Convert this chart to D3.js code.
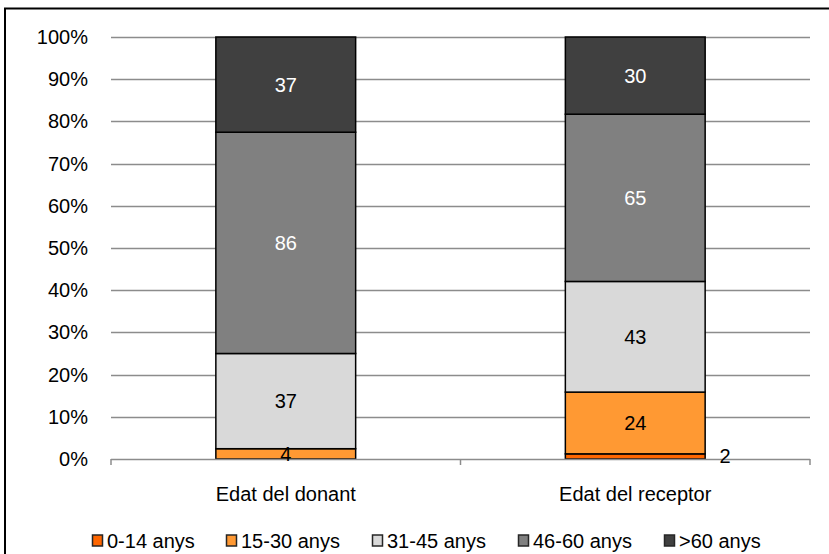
<!DOCTYPE html>
<html>
<head>
<meta charset="utf-8">
<script src="https://cdn.jsdelivr.net/npm/d3@7"></script>
<style>
  html, body { margin: 0; padding: 0; background: #fff; }
  svg { display: block; font-family: "Liberation Sans", Arial, sans-serif; }
</style>
</head>
<body>
<svg id="chart" width="829" height="554"></svg>
<script>
// Age groups and their counts for donors and recipients
const categories = ["Edat del donant", "Edat del receptor"];
const groups = ["0-14 anys", "15-30 anys", "31-45 anys", "46-60 anys", ">60 anys"];
const colors = ["#ff6600", "#ff9933", "#d9d9d9", "#808080", "#404040"];
const labelColors = ["#000", "#000", "#000", "#fff", "#fff"];
const donant = [0, 4, 37, 86, 37];
const receptor = [2, 24, 43, 65, 30];
const yTicks = [0, 0.1, 0.2, 0.3, 0.4, 0.5, 0.6, 0.7, 0.8, 0.9, 1];

const seriesValues = [donant, receptor];

const svg = d3.select("#chart");
const W = 829, H = 554;
const plot = { left: 111, right: 810, top: 37, bottom: 459 };
const FS = 20;

// Outer frame (runs past the right and bottom edges)
svg.append("rect")
  .attr("x", 5).attr("y", 8.5)
  .attr("width", W + 10).attr("height", H + 10)
  .attr("fill", "#fff").attr("stroke", "#000").attr("stroke-width", 2);

const x = d3.scaleBand().domain(categories).range([plot.left, plot.right]).paddingInner(0.6).paddingOuter(0.3);
const xOuter = d3.scaleBand().domain(categories).range([plot.left, plot.right]);
const y = d3.scaleLinear().domain([0, 1]).range([plot.bottom, plot.top]);

// Horizontal gridlines
svg.append("g").selectAll("line").data(yTicks.slice(1)).join("line")
  .attr("x1", plot.left).attr("x2", plot.right)
  .attr("y1", d => Math.round(y(d)) + 0.5).attr("y2", d => Math.round(y(d)) + 0.5)
  .attr("stroke", "#8c8c8c").attr("stroke-width", 1.5);

// Y tick labels
svg.append("g").selectAll("text").data(yTicks).join("text")
  .attr("x", 88).attr("y", d => y(d))
  .attr("dy", "0.35em").attr("text-anchor", "end")
  .attr("font-size", FS).attr("fill", "#000")
  .text(d => d3.format(".0%")(d));

// Stack the counts into proportions
const rows = categories.map((c, i) => {
  const total = d3.sum(seriesValues[i]);
  const r = { cat: c, total };
  groups.forEach((g, j) => r[g] = seriesValues[i][j] / total);
  return r;
});
const stacked = d3.stack().keys(groups)(rows);

const barG = svg.append("g");
stacked.forEach((layer, j) => {
  barG.selectAll(null).data(layer.filter(d => d[1] - d[0] > 0)).join("rect")
    .attr("x", d => x(d.data.cat))
    .attr("width", x.bandwidth())
    .attr("y", d => y(d[1]))
    .attr("height", d => y(d[0]) - y(d[1]))
    .attr("fill", colors[j])
    .attr("stroke", "#000").attr("stroke-width", 1.5);
});

// X axis line with tick marks at category boundaries
svg.append("line")
  .attr("x1", plot.left).attr("x2", plot.right)
  .attr("y1", plot.bottom + 0.5).attr("y2", plot.bottom + 0.5)
  .attr("stroke", "#8c8c8c").attr("stroke-width", 1.5);
const boundaries = [plot.left, xOuter(categories[1]), plot.right];
svg.append("g").selectAll("line").data(boundaries).join("line")
  .attr("x1", d => d).attr("x2", d => d)
  .attr("y1", plot.bottom).attr("y2", plot.bottom + 6)
  .attr("stroke", "#8c8c8c").attr("stroke-width", 1.5);

// Category labels
svg.append("g").selectAll("text").data(categories).join("text")
  .attr("x", d => x(d) + x.bandwidth() / 2).attr("y", 494)
  .attr("dy", "0.35em")
  .attr("text-anchor", "middle").attr("font-size", FS).attr("fill", "#000")
  .text(d => d);

// Value labels (very thin segments get their label beside the bar)
const labelG = svg.append("g");
stacked.forEach((layer, j) => {
  layer.forEach((d, i) => {
    const v = seriesValues[i][j];
    if (!v) return;
    const h = y(d[0]) - y(d[1]);
    const cx = x(d.data.cat) + x.bandwidth() / 2;
    const cy = (y(d[0]) + y(d[1])) / 2;
    const outside = h < 8;
    labelG.append("text")
      .attr("x", outside ? x(d.data.cat) + x.bandwidth() + 20 : cx)
      .attr("y", outside ? cy - 0.5 : cy)
      .attr("dy", "0.35em")
      .attr("text-anchor", "middle")
      .attr("font-size", FS)
      .attr("fill", outside ? "#000" : labelColors[j])
      .text(v);
  });
});

// Legend
const legendX = [92, 226, 372, 518, 664];
const lg = svg.append("g").selectAll("g").data(groups).join("g")
  .attr("transform", (d, i) => `translate(${legendX[i]},540.5)`);
lg.append("rect")
  .attr("x", 0.5).attr("y", -5.5).attr("width", 10).attr("height", 11)
  .attr("fill", (d, i) => colors[i]).attr("stroke", "#262626").attr("stroke-width", 1.5);
lg.append("text")
  .attr("x", 15).attr("y", 0).attr("dy", "0.35em")
  .attr("font-size", FS).attr("fill", "#000")
  .text(d => d);
</script>
</body>
</html>
